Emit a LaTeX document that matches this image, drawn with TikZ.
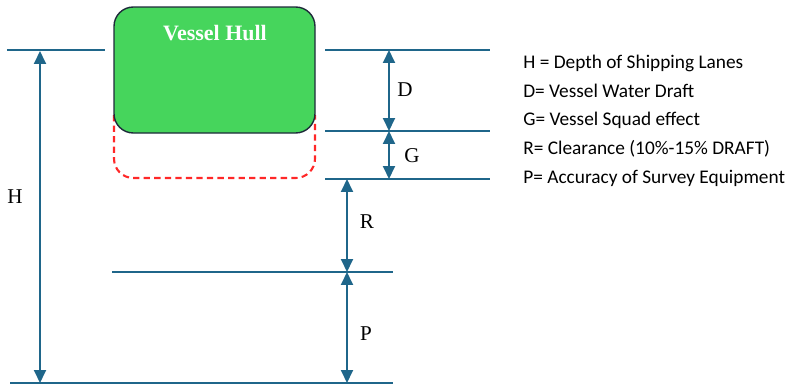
\documentclass[tikz,border=0pt]{standalone}
\usepackage{fontspec}
\setmainfont{Liberation Serif}
\newfontfamily\legendfont{Carlito}
\usetikzlibrary{arrows.meta,positioning,calc}
\definecolor{hullgreen}{RGB}{70,213,92}
\definecolor{hulledge}{RGB}{30,42,58}
\definecolor{levelblue}{RGB}{31,102,138}
\definecolor{squatred}{RGB}{255,40,40}

\begin{document}
\begin{tikzpicture}[
    x=0.02cm, y=-0.02cm,
    level/.style={draw=levelblue, line width=1.1pt},
    dimarrow/.style={draw=levelblue, line width=1.1pt,
                     {Triangle[length=2.6mm,width=2.4mm]}-{Triangle[length=2.6mm,width=2.4mm]}},
    dimlabel/.style={font=\fontsize{12}{14}\selectfont, text=black, inner sep=0pt},
    legendline/.style={font=\legendfont\fontsize{11}{13}\selectfont, anchor=west, inner sep=0pt}
]
\useasboundingbox (0,0) rectangle (796,389);

% squat outline below the hull
\draw[squatred, line width=1.2pt, dash pattern=on 3.6pt off 2.4pt, rounded corners=11pt]
    (114,115) -- (114,178) -- (315,178) -- (315,115);

% vessel hull
\draw[fill=hullgreen, draw=hulledge, line width=0.8pt, rounded corners=11pt]
    (114,7) rectangle (315,133);
\node[font=\bfseries\fontsize{12.5}{14}\selectfont, text=white, inner sep=0pt] (hull) at (215,33) {Vessel Hull};

% reference levels
\coordinate (surfL1) at (7,50);   \coordinate (surfL2) at (105,50);
\coordinate (surfR1) at (325,50); \coordinate (surfR2) at (490,50);
\coordinate (keel1) at (325,131); \coordinate (keel2) at (490,131);
\coordinate (squat1) at (325,179); \coordinate (squat2) at (490,179);
\coordinate (clear1) at (112,272); \coordinate (clear2) at (393,272);
\coordinate (bed1) at (10,383);   \coordinate (bed2) at (393,383);

\draw[level] (surfL1) -- (surfL2);
\draw[level] (surfR1) -- (surfR2);
\draw[level] (keel1) -- (keel2);
\draw[level] (squat1) -- (squat2);
\draw[level] (clear1) -- (clear2);
\draw[level] (bed1) -- (bed2);

% dimension arrows
\coordinate (hTop) at (40,51);   \coordinate (hBot) at (40,383);
\coordinate (dTop) at (389,50);  \coordinate (dBot) at (389,131);
\coordinate (gBot) at (389,179);
\coordinate (rTop) at (347,179); \coordinate (rBot) at (347,272);
\coordinate (pBot) at (347,383);

\draw[dimarrow] (hTop) -- (hBot);
\draw[dimarrow] (dTop) -- (dBot);
\draw[dimarrow] (dBot) -- (gBot);
\draw[dimarrow] (rTop) -- (rBot);
\draw[dimarrow] (rBot) -- (pBot);

\node[dimlabel] (hLbl) at (15,197) {H};
\node[dimlabel] (dLbl) at (405,90) {D};
\node[dimlabel] (gLbl) at (412,156) {G};
\node[dimlabel] (rLbl) at (367,222) {R};
\node[dimlabel] (pLbl) at (366,334) {P};

% legend
\node[legendline] (legH) at (523,63) {H = Depth of Shipping Lanes};
\node[legendline] (legD) at (523,91) {D= Vessel Water Draft};
\node[legendline] (legG) at (523,120) {G= Vessel Squad effect};
\node[legendline] (legR) at (523,149) {R= Clearance (10\%-15\% DRAFT)};
\node[legendline] (legP) at (523,178) {P= Accuracy of Survey Equipment};
\end{tikzpicture}
\end{document}
